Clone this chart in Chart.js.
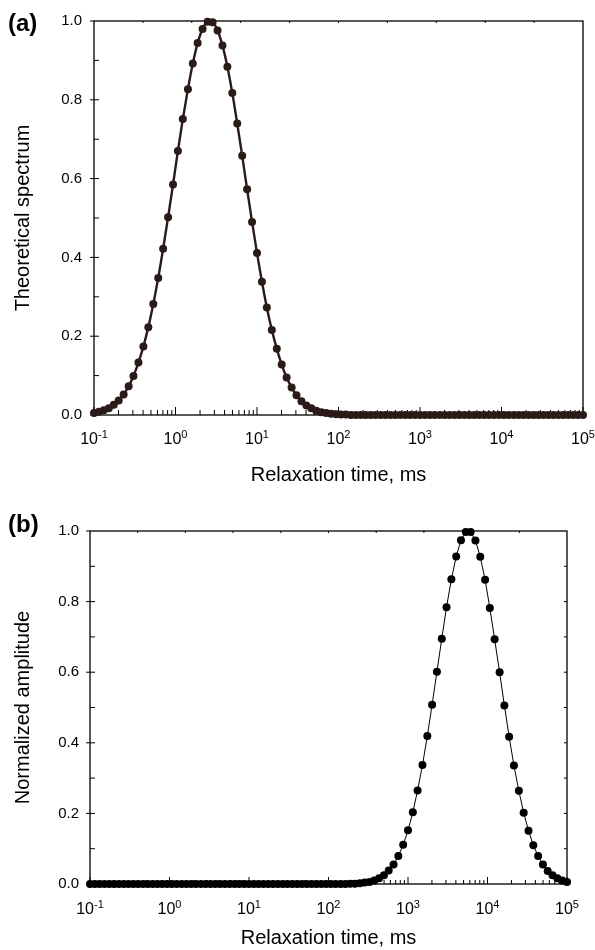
<!DOCTYPE html>
<html>
<head>
<meta charset="utf-8">
<script src="https://cdn.jsdelivr.net/npm/chart.js@4.4.0/dist/chart.umd.min.js"></script>
<style>
  body { margin: 0; background: #fff; }
  #wrapA { position: absolute; left: 0; top: 0; width: 595px; height: 500px; }
  #wrapB { position: absolute; left: 0; top: 500px; width: 595px; height: 450px; }
</style>
</head>
<body>
<div id="wrapA"><canvas id="chartA" width="595" height="500"></canvas></div>
<div id="wrapB"><canvas id="chartB" width="595" height="450"></canvas></div>
<script>
// relaxation times (ms), log spaced
const relaxTimes = [
  0.1, 0.115, 0.132, 0.152, 0.175, 0.201, 0.231, 0.266, 0.305, 0.351,
  0.404, 0.464, 0.534, 0.614, 0.705, 0.811, 0.933, 1.07, 1.23, 1.42,
  1.63, 1.87, 2.15, 2.48, 2.85, 3.28, 3.77, 4.33, 4.98, 5.72,
  6.58, 7.56, 8.70, 10.0, 11.5, 13.2, 15.2, 17.5, 20.1, 23.1,
  26.6, 30.5, 35.1, 40.4, 46.4, 53.4, 61.4, 70.5, 81.1, 93.3,
  107, 123, 142, 163, 187, 215, 248, 285, 328, 377,
  433, 498, 572, 658, 756, 870, 1000, 1150, 1320, 1520,
  1750, 2010, 2310, 2660, 3050, 3510, 4040, 4640, 5340, 6140,
  7050, 8110, 9330, 10700, 12300, 14200, 16300, 18700, 21500, 24800,
  28500, 32800, 37700, 43300, 49800, 57200, 65800, 75600, 87000, 100000
];

// (a) theoretical spectrum
const spectrumA = [
  0.005, 0.008, 0.012, 0.017, 0.026, 0.037, 0.052, 0.073, 0.099, 0.133,
  0.174, 0.223, 0.282, 0.348, 0.422, 0.502, 0.585, 0.670, 0.751, 0.827,
  0.892, 0.944, 0.980, 0.998, 0.997, 0.976, 0.938, 0.884, 0.817, 0.740,
  0.658, 0.573, 0.490, 0.411, 0.338, 0.273, 0.216, 0.168, 0.128, 0.095,
  0.070, 0.050, 0.035, 0.024, 0.017, 0.011, 0.007, 0.005, 0.003, 0.002,
  0.001, 0.001, 0, 0, 0, 0, 0, 0, 0, 0,
  0, 0, 0, 0, 0, 0, 0, 0, 0, 0,
  0, 0, 0, 0, 0, 0, 0, 0, 0, 0,
  0, 0, 0, 0, 0, 0, 0, 0, 0, 0,
  0, 0, 0, 0, 0, 0, 0, 0, 0, 0
];

// (b) normalized amplitude
const amplitudeB = [
  0, 0, 0, 0, 0, 0, 0, 0, 0, 0,
  0, 0, 0, 0, 0, 0, 0, 0, 0, 0,
  0, 0, 0, 0, 0, 0, 0, 0, 0, 0,
  0, 0, 0, 0, 0, 0, 0, 0, 0, 0,
  0, 0, 0, 0, 0, 0, 0, 0, 0, 0,
  0, 0, 0, 0, 0.001, 0.001, 0.002, 0.004, 0.006, 0.010,
  0.016, 0.025, 0.038, 0.055, 0.079, 0.111, 0.152, 0.203, 0.265, 0.337,
  0.419, 0.508, 0.601, 0.695, 0.784, 0.863, 0.928, 0.974, 0.997, 0.997,
  0.973, 0.927, 0.862, 0.782, 0.693, 0.600, 0.506, 0.417, 0.336, 0.264,
  0.202, 0.151, 0.110, 0.079, 0.055, 0.037, 0.025, 0.016, 0.010, 0.006
];

const decadeExponents = [-1, 0, 1, 2, 3, 4, 5];
const yTickValues = [0, 0.2, 0.4, 0.6, 0.8, 1.0];

const FONT = '"Liberation Sans", Arial, Helvetica, sans-serif';

function decoPlugin(cfg) {
  return {
    id: 'deco',
    beforeDatasetsDraw(chart) {
      const { ctx, chartArea: a, scales: { x, y } } = chart;
      ctx.save();
      ctx.strokeStyle = '#000';
      ctx.lineWidth = 1.3;
      ctx.strokeRect(a.left, a.top, a.right - a.left, a.bottom - a.top);
      ctx.lineWidth = 1;
      ctx.beginPath();
      // x ticks, pointing up into the plot
      decadeExponents.forEach((k, i) => {
        const px = x.getPixelForValue(Math.pow(10, k));
        ctx.moveTo(px, a.bottom); ctx.lineTo(px, a.bottom - cfg.xMajor);
        if (i < decadeExponents.length - 1) {
          for (let m = 2; m <= 9; m++) {
            const pm = x.getPixelForValue(m * Math.pow(10, k));
            ctx.moveTo(pm, a.bottom); ctx.lineTo(pm, a.bottom - cfg.xMinor);
          }
        }
      });
      // y ticks every 0.1
      for (let j = 1; j < 10; j++) {
        const py = y.getPixelForValue(j / 10);
        if (j % 2 === 0) {
          ctx.moveTo(a.left - 4, py); ctx.lineTo(a.left + 5, py);
        } else {
          ctx.moveTo(a.left, py); ctx.lineTo(a.left + 5, py);
        }
        if (cfg.rightTicks) {
          ctx.moveTo(a.right, py); ctx.lineTo(a.right - cfg.rightTicks, py);
        }
      }
      ctx.moveTo(a.left - 4, y.getPixelForValue(0)); ctx.lineTo(a.left, y.getPixelForValue(0));
      ctx.moveTo(a.left - 4, y.getPixelForValue(1)); ctx.lineTo(a.left, y.getPixelForValue(1));
      // small ticks on the top edge
      for (let j = 1; j < 10; j++) {
        const px = a.left + (a.right - a.left) * j / 10;
        ctx.moveTo(px, a.top); ctx.lineTo(px, a.top + 2);
      }
      ctx.stroke();
      ctx.restore();
    },
    afterDraw(chart) {
      const { ctx, scales: { x } } = chart;
      ctx.save();
      ctx.fillStyle = '#000';
      ctx.textBaseline = 'alphabetic';
      ctx.textAlign = 'left';
      decadeExponents.forEach(k => {
        const px = x.getPixelForValue(Math.pow(10, k));
        const base = '10', sup = String(k);
        ctx.font = '16px ' + FONT;
        const wb = ctx.measureText(base).width;
        ctx.font = '11px ' + FONT;
        const ws = ctx.measureText(sup).width;
        const x0 = px - (wb + ws) / 2;
        ctx.font = '16px ' + FONT;
        ctx.fillText(base, x0, cfg.labelBase);
        ctx.font = '11px ' + FONT;
        ctx.fillText(sup, x0 + wb, cfg.labelBase - 6);
      });
      ctx.font = 'bold 24px ' + FONT;
      ctx.fillText(cfg.letter, 8, cfg.letterY);
      ctx.restore();
    }
  };
}

function makeChart(id, values, yTitle, cfg) {
  return new Chart(document.getElementById(id), {
    type: 'line',
    data: {
      datasets: [{
        data: relaxTimes.map((t, i) => ({ x: t, y: values[i] })),
        borderColor: cfg.color,
        backgroundColor: cfg.color,
        pointBackgroundColor: cfg.color,
        borderWidth: cfg.lineWidth,
        pointRadius: 4,
        pointBorderWidth: 0,
        cubicInterpolationMode: cfg.smooth ? 'monotone' : 'default',
        tension: 0,
        clip: false
      }]
    },
    options: {
      responsive: false,
      animation: false,
      layout: { padding: cfg.padding },
      plugins: { legend: { display: false }, tooltip: { enabled: false } },
      scales: {
        x: {
          type: 'logarithmic',
          min: 0.1,
          max: 100000,
          grid: { display: false, drawTicks: false },
          border: { display: false },
          ticks: { display: false },
          afterFit: s => { s.height = cfg.xHeight; },
          title: {
            display: true,
            text: 'Relaxation time, ms',
            color: '#000',
            font: { family: FONT, size: 20 },
            padding: { top: 0, bottom: cfg.xTitlePad }
          }
        },
        y: {
          min: 0,
          max: 1,
          grid: { display: false, drawTicks: false },
          border: { display: false },
          afterBuildTicks: s => { s.ticks = yTickValues.map(v => ({ value: v })); },
          ticks: {
            padding: cfg.yTickPad,
            color: '#000',
            font: { family: FONT, size: 15 },
            callback: v => Number(v).toFixed(1)
          },
          afterFit: s => { s.width = cfg.yWidth; },
          title: {
            display: true,
            text: yTitle,
            color: '#000',
            font: { family: FONT, size: 20 },
            padding: { top: 11.5, bottom: 0 }
          }
        }
      }
    },
    plugins: [decoPlugin(cfg)]
  });
}

makeChart('chartA', spectrumA, 'Theoretical spectrum', {
  color: '#2a1b18', lineWidth: 2.4, smooth: true,
  padding: { left: 0, top: 16, right: 12, bottom: 0 },
  yWidth: 94, xHeight: 85, xTitlePad: 13, yTickPad: 12,
  xMajor: 8, xMinor: 5, rightTicks: 0,
  labelBase: 444, letter: '(a)', letterY: 31
});

makeChart('chartB', amplitudeB, 'Normalized amplitude', {
  color: '#000', lineWidth: 1, smooth: false,
  padding: { left: 0, top: 31, right: 28, bottom: 0 },
  yWidth: 90, xHeight: 66, xTitlePad: 0, yTickPad: 11,
  xMajor: 7, xMinor: 4, rightTicks: 3,
  labelBase: 414, letter: '(b)', letterY: 32
});
</script>
</body>
</html>
